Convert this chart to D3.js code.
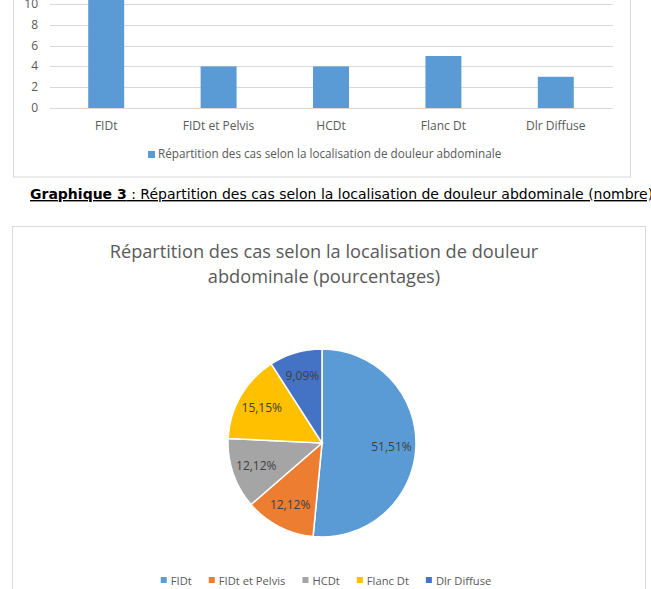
<!DOCTYPE html>
<html>
<head>
<meta charset="utf-8">
<script src="https://cdn.jsdelivr.net/npm/d3@7"></script>
<style>
  body { margin: 0; background: #fff; }
  svg { display: block; }
  text { font-family: "Open Sans", sans-serif; }
</style>
</head>
<body>
<svg id="page" width="651" height="589"></svg>
<script>
// data
const categories = ["FIDt", "FIDt et Pelvis", "HCDt", "Flanc Dt", "Dlr Diffuse"];
const counts = [17, 4, 4, 5, 3];
const percentLabels = ["51,51%", "12,12%", "12,12%", "15,15%", "9,09%"];
const yTicks = [0, 2, 4, 6, 8, 10];
const colors = ["#5b9bd5", "#ed7d31", "#a5a5a5", "#ffc000", "#4472c4"];

const barLegend = "Répartition des cas selon la localisation de douleur abdominale";
const captionBold = "Graphique 3";
const captionRest = " : Répartition des cas selon la localisation de douleur abdominale (nombre)";
const pieTitle = ["Répartition des cas selon la localisation de douleur", "abdominale (pourcentages)"];

const svg = d3.select("#page");
const grey = "#595959";

// ---- bar chart (top, cut by the page edge) ----
const bar = svg.append("g");
bar.append("rect")
  .attr("x", 13.5).attr("y", -150).attr("width", 617).attr("height", 327)
  .attr("fill", "#fff").attr("stroke", "#d9d9d9");

const x = d3.scaleBand().domain(categories).range([50, 612])
  .paddingInner(0.68).paddingOuter(0.34);
const y = d3.scaleLinear().domain([0, 18]).range([108, 108 - 18 * 10.4]);

bar.selectAll("line.grid").data(yTicks).join("line")
  .attr("class", "grid")
  .attr("x1", 50).attr("x2", 613)
  .attr("y1", d => Math.round(y(d)) + 0.5).attr("y2", d => Math.round(y(d)) + 0.5)
  .attr("stroke", "#d9d9d9");

bar.selectAll("text.ytick").data(yTicks).join("text")
  .attr("class", "ytick")
  .attr("x", 38).attr("y", d => y(d) + 4)
  .attr("text-anchor", "end")
  .attr("font-size", 12).attr("fill", grey)
  .text(d => d);

bar.selectAll("rect.bar").data(counts).join("rect")
  .attr("class", "bar")
  .attr("x", (d, i) => x(categories[i]))
  .attr("width", x.bandwidth())
  .attr("y", d => y(d))
  .attr("height", d => y(0) - y(d))
  .attr("fill", colors[0]);

bar.selectAll("text.xlab").data(categories).join("text")
  .attr("class", "xlab")
  .attr("x", d => x(d) + x.bandwidth() / 2).attr("y", 130)
  .attr("text-anchor", "middle")
  .attr("font-size", 12).attr("fill", grey)
  .text(d => d);

bar.append("rect").attr("x", 148).attr("y", 151).attr("width", 7).attr("height", 7).attr("fill", colors[0]);
bar.append("text").attr("x", 158).attr("y", 158)
  .attr("font-size", 11.7).attr("fill", grey).text(barLegend);

// ---- caption ----
const cap = svg.append("text").attr("x", 30).attr("y", 199)
  .attr("font-size", 14).attr("fill", "#000")
  .style("font-family", "'DejaVu Sans', sans-serif")
  .attr("text-decoration", "underline");
cap.append("tspan").attr("font-weight", "bold").text(captionBold);
cap.append("tspan").text(captionRest);

// ---- pie chart ----
const pieG = svg.append("g");
pieG.append("rect")
  .attr("x", 12.5).attr("y", 226.5).attr("width", 633).attr("height", 400)
  .attr("fill", "#fff").attr("stroke", "#d9d9d9");

pieG.selectAll("text.title").data(pieTitle).join("text")
  .attr("class", "title")
  .attr("x", 324).attr("y", (d, i) => 258 + i * 25)
  .attr("text-anchor", "middle")
  .attr("font-size", 18.2).attr("fill", grey)
  .text(d => d);

const cx = 322, cy = 443, r = 94;
const pie = d3.pie().sort(null).value(d => d);
const arcs = pie(counts);
const arc = d3.arc().innerRadius(0).outerRadius(r);
const labelArc = d3.arc().innerRadius(r * 0.74).outerRadius(r * 0.74);

const slices = pieG.append("g").attr("transform", `translate(${cx},${cy})`);
slices.selectAll("path").data(arcs).join("path")
  .attr("d", arc)
  .attr("fill", (d, i) => colors[i])
  .attr("stroke", "#fff").attr("stroke-width", 1.5);

slices.selectAll("text").data(arcs).join("text")
  .attr("transform", d => `translate(${labelArc.centroid(d)})`)
  .attr("dy", "0.35em")
  .attr("text-anchor", "middle")
  .attr("font-size", 12).attr("fill", "#404040")
  .text((d, i) => percentLabels[i]);

// legend, centred under the pie
const leg = pieG.append("g");
const items = leg.selectAll("g").data(categories).join("g");
items.append("rect").attr("width", 6).attr("height", 6).attr("y", -5)
  .attr("fill", (d, i) => colors[i]);
items.append("text").attr("x", 10).attr("y", 0).attr("dy", "0.3em")
  .attr("font-size", 11.2).attr("fill", grey).text(d => d);
let pos = 0;
items.each(function () {
  const w = d3.select(this).select("text").node().getComputedTextLength();
  d3.select(this).attr("transform", `translate(${pos},0)`);
  pos += 10 + w + 17;
});
const total = pos - 17;
leg.attr("transform", `translate(${326 - total / 2},582)`);
</script>
</body>
</html>
